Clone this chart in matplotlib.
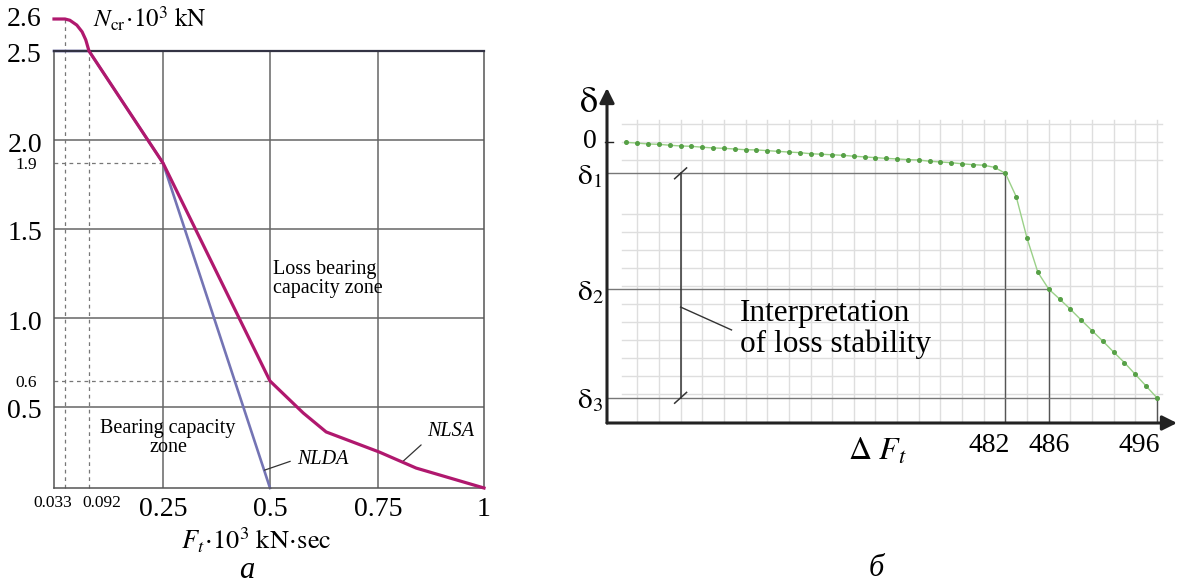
import numpy as np
import matplotlib
matplotlib.use("Agg")
import matplotlib.pyplot as plt

plt.rcParams['font.family'] = ['Liberation Serif', 'DejaVu Serif']
plt.rcParams['mathtext.fontset'] = 'stix'

# ---- panel a : critical force vs impulse ----
nlsa_x = [0.0, 0.033, 0.045, 0.062, 0.075, 0.084, 0.092, 0.25, 0.5, 0.577, 0.630, 0.753, 0.840, 1.0]
nlsa_y = [2.6, 2.6, 2.596, 2.581, 2.56, 2.535, 2.5, 1.9, 0.6, 0.463, 0.346, 0.222, 0.123, 0.0]
nlda_x = [0.0, 0.092, 0.25, 0.5]
nlda_y = [2.5, 2.5, 1.9, 0.0]

a_yticks_big = [2.5, 2.0, 1.5, 1.0, 0.5]
a_yticks_small = [2.6, 1.9, 0.6]
a_xticks_big = [0.25, 0.5, 0.75, 1.0]
a_xticks_big_lbl = ['0.25', '0.5', '0.75', '1']
a_xticks_small = [0.033, 0.092]
a_grid_x = [0.25, 0.5, 0.75]
a_grid_y = [0.5, 1.0, 1.5, 2.0]

# ---- panel b : deflection vs impulse increment ----
dF = list(range(447, 497))
delta = [-0.02, -0.06, -0.11, -0.13, -0.18, -0.22, -0.24, -0.29, -0.33, -0.35,
         -0.39, -0.43, -0.44, -0.48, -0.52, -0.56, -0.59, -0.65, -0.68, -0.71,
         -0.74, -0.79, -0.83, -0.87, -0.91, -0.94, -0.98, -1.00, -1.07, -1.11,
         -1.15, -1.21, -1.26, -1.29, -1.41, -1.74, -3.04, -5.35, -7.24, -8.17,
         -8.72, -9.29, -9.89, -10.48, -11.06, -11.67, -12.26, -12.91, -13.56, -14.21]
marked_F = [482, 486, 496]
b_grid_x = list(range(448, 497, 2))
b_grid_y = [1, 0, -1] + list(range(-4, -15, -1))

W, H = 1178, 588
fig = plt.figure(figsize=(W / 100, H / 100), dpi=100)


def fpx(x, y):
    return x / W, 1 - y / H


# piecewise scales (drawing is not to scale)
xv = [0, 0.033, 0.092, 0.25, 0.5, 0.75, 1.0]
xp = [0, 11, 35, 109, 216, 324, 430]
yv = [0, 0.5, 0.6, 1.0, 1.5, 1.9, 2.0, 2.5, 2.6]
yp = [0, 81, 107, 170, 259, 325, 348, 437, 469]

ax1 = fig.add_axes([54 / W, 100 / H, 430 / W, 437 / H])
ax1.set_xscale('function', functions=(lambda v: np.interp(v, xv, xp),
                                      lambda p: np.interp(p, xp, xv)))
ax1.set_yscale('function', functions=(lambda v: np.interp(v, yv, yp),
                                      lambda p: np.interp(p, yp, yv)))
ax1.set_xlim(0, 1)
ax1.set_ylim(0, 2.5)
ax1.set_xticks([])
ax1.set_yticks([])
for s in ax1.spines.values():
    s.set_color('#555555')
    s.set_linewidth(1.1)
ax1.spines['top'].set_color('#333344')
ax1.spines['top'].set_linewidth(1.6)

for g in a_grid_x:
    ax1.axvline(g, color='#666666', lw=1.1, zorder=1)
for g in a_grid_y:
    ax1.axhline(g, color='#666666', lw=1.1, zorder=1)

dash = dict(color='#777777', lw=0.9, ls=(0, (3, 3)), zorder=1, clip_on=False)
ax1.plot([0.033, 0.033], [0, 2.6], **dash)
ax1.plot([0.092, 0.092], [0, 2.5], **dash)
ax1.plot([0, 0.25], [1.9, 1.9], **dash)
ax1.plot([0, 0.5], [0.6, 0.6], **dash)

ax1.plot(nlda_x, nlda_y, color='#7474b4', lw=1.9, zorder=2, clip_on=False)
ax1.plot(nlsa_x, nlsa_y, color='#b0186e', lw=2.3, zorder=4, clip_on=False)

for v in a_yticks_big:
    ax1.annotate(f'{v:.1f}', xy=(0, v), xytext=(-12, -5), textcoords='offset pixels',
                 ha='right', va='center', fontsize=20, annotation_clip=False)
for v in a_yticks_small:
    big = v == 2.6
    ax1.annotate(f'{v:.1f}', xy=(0, v), xytext=(-12 if big else -17, 0 if big else -2),
                 textcoords='offset pixels', ha='right', va='center',
                 fontsize=20 if big else 12.5, annotation_clip=False)
for v, lbl in zip(a_xticks_big, a_xticks_big_lbl):
    ax1.annotate(lbl, xy=(v, 0), xytext=(0, -21), textcoords='offset pixels',
                 ha='center', va='center', fontsize=20, annotation_clip=False)
for v, dx in zip(a_xticks_small, [-12, 13]):
    ax1.annotate(f'{v:.3f}', xy=(v, 0), xytext=(dx, -15), textcoords='offset pixels',
                 ha='center', va='center', fontsize=12.5, annotation_clip=False)

fig.text(*fpx(93, 19), r'$N_{\mathrm{cr}}\!\cdot\!10^3\ \mathrm{kN}$', ha='left', va='center', fontsize=18)
fig.text(*fpx(256, 540), r'$F_t\!\cdot\!10^3\ \mathrm{kN\!\cdot\!sec}$', ha='center', va='center', fontsize=19)
fig.text(*fpx(247, 571), 'а', ha='center', va='center', fontsize=22, style='italic')
fig.text(*fpx(273, 279), 'Loss bearing\ncapacity zone', ha='left', va='center', fontsize=14.5, linespacing=1.05)
fig.text(*fpx(168, 438), 'Bearing capacity\nzone', ha='center', va='center', fontsize=14.5, linespacing=1.05)

ax1.annotate('NLDA', xy=(0.487, 0.11), xytext=(297, H - 459), textcoords='figure pixels',
             ha='left', va='center', fontsize=14.5, style='italic',
             arrowprops=dict(arrowstyle='-', lw=0.9, color='#333333', shrinkA=3, shrinkB=0, relpos=(0, 0.5)))
ax1.annotate('NLSA', xy=(0.807, 0.16), xytext=(427, H - 432), textcoords='figure pixels',
             ha='left', va='center', fontsize=14.5, style='italic',
             arrowprops=dict(arrowstyle='-', lw=0.9, color='#333333', shrinkA=3, shrinkB=0, relpos=(0, 0.1)))

# ---- panel b ----
x0, x1 = 445.2, 497.85
y0, y1 = -15.61, 3.0
ax2 = fig.add_axes([607 / W, 165 / H, 570 / W, 335 / H])
ax2.set_xlim(x0, x1)
ax2.set_ylim(y0, y1)
ax2.axis('off')

for g in b_grid_x:
    ax2.plot([g, g], [y0, 1.22], color='#dedede', lw=1, zorder=1)
for g in b_grid_y:
    ax2.plot([446.6, 496.5], [g, g], color='#dedede', lw=1, zorder=1)

d_marks = [delta[dF.index(f)] for f in marked_F]
for f, d in zip(marked_F, d_marks):
    ax2.plot([x0, f], [d, d], color='#777777', lw=1, zorder=2)
    ax2.plot([f, f], [y0, d], color='#555555', lw=1, zorder=2)

ax2.plot(dF, delta, color='#9ad088', lw=1, marker='o', ms=2.6,
         mfc='#56a046', mec='#56a046', zorder=4)

# interpretation bracket
bx = 452
ax2.plot([bx, bx], [d_marks[0], d_marks[2]], color='#333333', lw=1.1, zorder=3)
for d in (d_marks[0], d_marks[2]):
    ax2.plot([bx - 0.55, bx + 0.55], [d - 0.3, d + 0.3], color='#333333', lw=1.1, zorder=3)
ax2.plot([bx, 456.7], [-9.17, -10.44], color='#333333', lw=1, zorder=3)
fig.text(*fpx(740, 329), 'Interpretation\nof loss stability', ha='left', va='center',
         fontsize=22.5, linespacing=1.1)

ax2.annotate('', xy=(x1, y0), xytext=(x0, y0),
             arrowprops=dict(arrowstyle='-|>', lw=2.2, color='#222222', mutation_scale=22,
                             shrinkA=0, shrinkB=0), annotation_clip=False)
ax2.annotate('', xy=(x0, y1), xytext=(x0, y0),
             arrowprops=dict(arrowstyle='-|>', lw=2.2, color='#222222', mutation_scale=22,
                             shrinkA=0, shrinkB=0), annotation_clip=False)
ax2.plot([x0 - 0.2, x0 + 0.55], [0, 0], color='#222222', lw=1, clip_on=False)

fig.text(*fpx(588, 104), r'$\mathrm{\delta}$', ha='center', va='center', fontsize=26)
fig.text(*fpx(590, 142), '0', ha='center', va='center', fontsize=20)
for i, yy in enumerate([177, 293, 401]):
    fig.text(*fpx(590, yy), r'$\mathrm{\delta}_{%d}$' % (i + 1), ha='center', va='center', fontsize=21)

ax2.annotate('482', xy=(482, y0), xytext=(4, -22), textcoords='offset pixels',
             ha='right', va='center', fontsize=20, annotation_clip=False)
ax2.annotate('486', xy=(486, y0), xytext=(0, -22), textcoords='offset pixels',
             ha='center', va='center', fontsize=20, annotation_clip=False)
ax2.annotate('496', xy=(496, y0), xytext=(3, -22), textcoords='offset pixels',
             ha='right', va='center', fontsize=20, annotation_clip=False)
fig.text(*fpx(848, 452), r'$\Delta\ F_t$', ha='left', va='center', fontsize=23)
fig.text(*fpx(876, 568), 'б', ha='center', va='center', fontsize=22, style='italic')

fig.savefig('out.png', dpi=100)
